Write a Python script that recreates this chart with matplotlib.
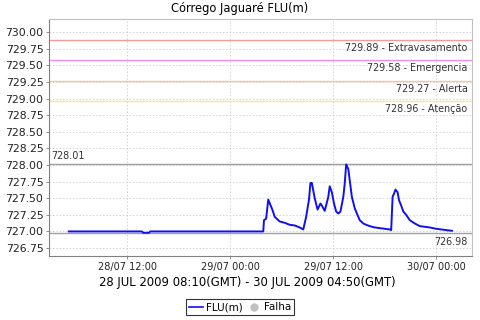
import pandas as pd
import matplotlib
matplotlib.use("Agg")
import matplotlib.pyplot as plt
import matplotlib.dates as mdates
from matplotlib.lines import Line2D

# leituras FLU(m), hora local (GMT-3)
times = [
    "2009-07-28 05:10", "2009-07-28 13:40", "2009-07-28 13:50", "2009-07-28 14:30",
    "2009-07-28 14:40", "2009-07-29 03:50", "2009-07-29 03:55", "2009-07-29 04:10",
    "2009-07-29 04:25", "2009-07-29 04:55", "2009-07-29 05:10", "2009-07-29 05:45",
    "2009-07-29 06:20", "2009-07-29 06:55", "2009-07-29 07:30", "2009-07-29 08:05",
    "2009-07-29 08:30", "2009-07-29 08:50", "2009-07-29 09:10", "2009-07-29 09:20",
    "2009-07-29 09:30", "2009-07-29 09:50", "2009-07-29 10:10", "2009-07-29 10:30",
    "2009-07-29 10:40", "2009-07-29 11:00", "2009-07-29 11:25", "2009-07-29 11:35",
    "2009-07-29 11:50", "2009-07-29 12:05", "2009-07-29 12:20", "2009-07-29 12:35",
    "2009-07-29 12:50", "2009-07-29 13:10", "2009-07-29 13:20", "2009-07-29 13:30",
    "2009-07-29 13:45", "2009-07-29 13:55", "2009-07-29 14:10", "2009-07-29 14:30",
    "2009-07-29 14:45", "2009-07-29 15:05", "2009-07-29 15:30", "2009-07-29 15:50",
    "2009-07-29 16:15", "2009-07-29 16:50", "2009-07-29 17:25", "2009-07-29 18:35",
    "2009-07-29 18:45", "2009-07-29 18:55", "2009-07-29 19:05", "2009-07-29 19:15",
    "2009-07-29 19:30", "2009-07-29 19:40", "2009-07-29 19:55", "2009-07-29 20:10",
    "2009-07-29 20:30", "2009-07-29 20:55", "2009-07-29 21:30", "2009-07-29 22:05",
    "2009-07-29 22:40", "2009-07-29 23:15", "2009-07-30 00:00", "2009-07-30 00:35",
    "2009-07-30 01:10", "2009-07-30 01:50",
]
levels = [
    727.00, 727.00, 726.98, 726.98,
    727.00, 727.00, 727.17, 727.19,
    727.48, 727.32, 727.22, 727.15,
    727.13, 727.10, 727.09, 727.06,
    727.03, 727.22, 727.48, 727.73,
    727.73, 727.50, 727.33, 727.42,
    727.39, 727.31, 727.52, 727.68,
    727.59, 727.42, 727.30, 727.27,
    727.30, 727.52, 727.72, 728.01,
    727.94, 727.77, 727.52, 727.35,
    727.27, 727.17, 727.12, 727.10,
    727.08, 727.06, 727.05, 727.03,
    727.02, 727.52, 727.57, 727.63,
    727.59, 727.47, 727.39, 727.30,
    727.25, 727.17, 727.12, 727.08,
    727.07, 727.06, 727.04, 727.03,
    727.02, 727.01,
]

# cotas de referencia
limit_values = [729.89, 729.58, 729.27, 728.96]
limit_names = ["Extravasamento", "Emergencia", "Alerta", "Atenção"]
limit_colors = ["#f59a9a", "#f58cf5", "#fcc68c", "#fbe88c"]

max_value = 728.01
min_value = 726.98

t = pd.to_datetime(times)

fig = plt.figure(figsize=(4.8, 3.2), dpi=100)
ax = fig.add_axes([0.102, 0.2, 0.881, 0.7406])

ax.grid(True, color="#d0d0d0", linestyle=(0, (2, 2)), linewidth=0.6)
ax.set_axisbelow(True)

for v, name, c in zip(limit_values, limit_names, limit_colors):
    ax.axhline(v, color=c, linewidth=1.0)
    ax.text(0.99, v - 0.045, f"{v:.2f} - {name}", transform=ax.get_yaxis_transform(),
            ha="right", va="top", fontsize=6.9, color="#333333")

ax.axhline(max_value, color="#a0a0a0", linewidth=1.0)
ax.axhline(min_value, color="#a0a0a0", linewidth=1.0)
ax.text(0.005, max_value + 0.05, f"{max_value:.2f}", transform=ax.get_yaxis_transform(),
        ha="left", va="bottom", fontsize=6.9, color="#333333")
ax.text(0.99, min_value - 0.06, f"{min_value:.2f}", transform=ax.get_yaxis_transform(),
        ha="right", va="top", fontsize=6.9, color="#333333")

ax.plot(t, levels, color="#1010f0", linewidth=1.4)

span = t[-1] - t[0]
ax.set_xlim(t[0] - span * 0.052, t[-1] + span * 0.052)
ax.set_ylim(726.63, 730.20)

ax.set_yticks([726.75 + 0.25 * i for i in range(14)])
ax.yaxis.set_major_formatter(matplotlib.ticker.FormatStrFormatter("%.2f"))
ax.xaxis.set_major_locator(mdates.HourLocator(byhour=[0, 12]))
ax.xaxis.set_major_formatter(mdates.DateFormatter("%d/%m %H:%M"))
ax.tick_params(length=2, width=0.6, color="#808080", pad=2)
ax.tick_params(axis="x", labelsize=7, labelcolor="#222222")
ax.tick_params(axis="y", labelsize=7.8, labelcolor="#222222")
for s in ax.spines.values():
    s.set_color("#c0c0c0")
    s.set_linewidth(0.8)
ax.spines["left"].set_color("#808080")
ax.spines["bottom"].set_color("#808080")

fig.text(0.5, 0.972, "Córrego Jaguaré FLU(m)", ha="center", va="center", fontsize=8.3)
fig.text(0.515, 0.118, "28 JUL 2009 08:10(GMT) - 30 JUL 2009 04:50(GMT)",
         ha="center", va="center", fontsize=8.4)

handles = [
    Line2D([], [], color="#1010f0", linewidth=1.2),
    Line2D([], [], color="#c0c0c0", marker="o", linestyle="none", markersize=5),
]
leg = fig.legend(handles, ["FLU(m)", "Falha"], loc="center", bbox_to_anchor=(0.5, 0.04),
                 ncol=2, fontsize=7.5, frameon=True, fancybox=False, handlelength=1.4,
                 handletextpad=0.3, columnspacing=0.3, borderpad=0.3, borderaxespad=0)
leg.get_frame().set_edgecolor("black")
leg.get_frame().set_linewidth(0.8)

fig.savefig("out.png", dpi=100)
